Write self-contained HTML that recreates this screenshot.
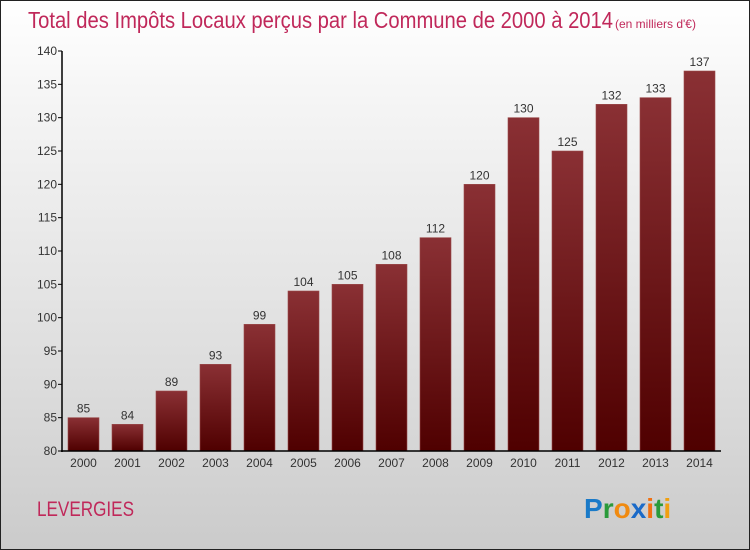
<!DOCTYPE html>
<html><head><meta charset="utf-8"><style>
body{margin:0}
#wrap{position:relative;width:748px;height:548px;border:1px solid #222;background:linear-gradient(#ffffff,#f4f4f4 20%,#dcdcdc 70%,#cbcbcb);font-family:"Liberation Sans",sans-serif;overflow:hidden}
svg{position:absolute;left:0;top:0}
</style></head><body>
<div id="wrap">
<svg id="s" width="750" height="550">
<defs><linearGradient id="g" x1="0" y1="0" x2="0" y2="1"><stop offset="0" stop-color="#8a3034"/><stop offset="1" stop-color="#4f0000"/></linearGradient></defs>
<text x="27" y="27" font-size="23" fill="#c0285a" textLength="585" lengthAdjust="spacingAndGlyphs">Total des Impôts Locaux perçus par la Commune de 2000 à 2014</text>
<text x="614" y="27" font-size="12" fill="#c0285a">(en milliers d'€)</text>
<text x="36" y="515" font-size="21" fill="#c0285a" textLength="97" lengthAdjust="spacingAndGlyphs">LEVERGIES</text>
<g font-size="28" font-weight="bold" font-family="'Liberation Sans',sans-serif">
<text x="583" y="517"><tspan fill="#1a7ac8">P</tspan><tspan fill="#2a9a3a">r</tspan><tspan fill="#f08a10">o</tspan><tspan fill="#1a6ac8">x</tspan><tspan fill="#f07010">i</tspan><tspan fill="#2a9a3a">t</tspan><tspan fill="#f0a010">i</tspan></text>
</g>
</svg>
</div>
<script>
const years=["2000","2001","2002","2003","2004","2005","2006","2007","2008","2009","2010","2011","2012","2013","2014"];
const values=[85,84,89,93,99,104,105,108,112,120,130,125,132,133,137];
const yTicks=[80,85,90,95,100,105,110,115,120,125,130,135,140];
const NS="http://www.w3.org/2000/svg",s=document.getElementById('s');
const y=v=>450-(v-80)*400/60, x=i=>67+i*44;
function mk(t,a,txt){const e=document.createElementNS(NS,t);for(const k in a)e.setAttribute(k,a[k]);if(txt!=null)e.textContent=txt;s.appendChild(e);return e;}
yTicks.forEach(v=>{
 const l=mk('line',{x1:57,x2:61,y1:y(v),y2:y(v),stroke:'#000'});
 
 
 const t=mk('text',{x:56,y:y(v)+4,'font-size':12,fill:'#333','text-anchor':'end'},v);
 
 
});
values.forEach((v,i)=>{
 const r=mk('rect',{x:x(i),y:y(v),width:31,height:450-y(v),fill:'url(#g)',stroke:'#9a4a4a','stroke-width':0.6});
 
 
 const t=mk('text',{x:x(i)+15.5,y:y(v)-5,'font-size':12,fill:'#333','text-anchor':'middle'},v);
 
 
 const c=mk('text',{x:x(i)+15.5,y:466,'font-size':12,fill:'#333','text-anchor':'middle'},years[i]);
 
 
});
const ya=mk('line',{x1:61,x2:61,y1:50,y2:451,stroke:'#000','stroke-width':1.5});


const xa=mk('line',{x1:60,x2:720,y1:450,y2:450,stroke:'#000','stroke-width':1.5});


</script>
</body></html>
